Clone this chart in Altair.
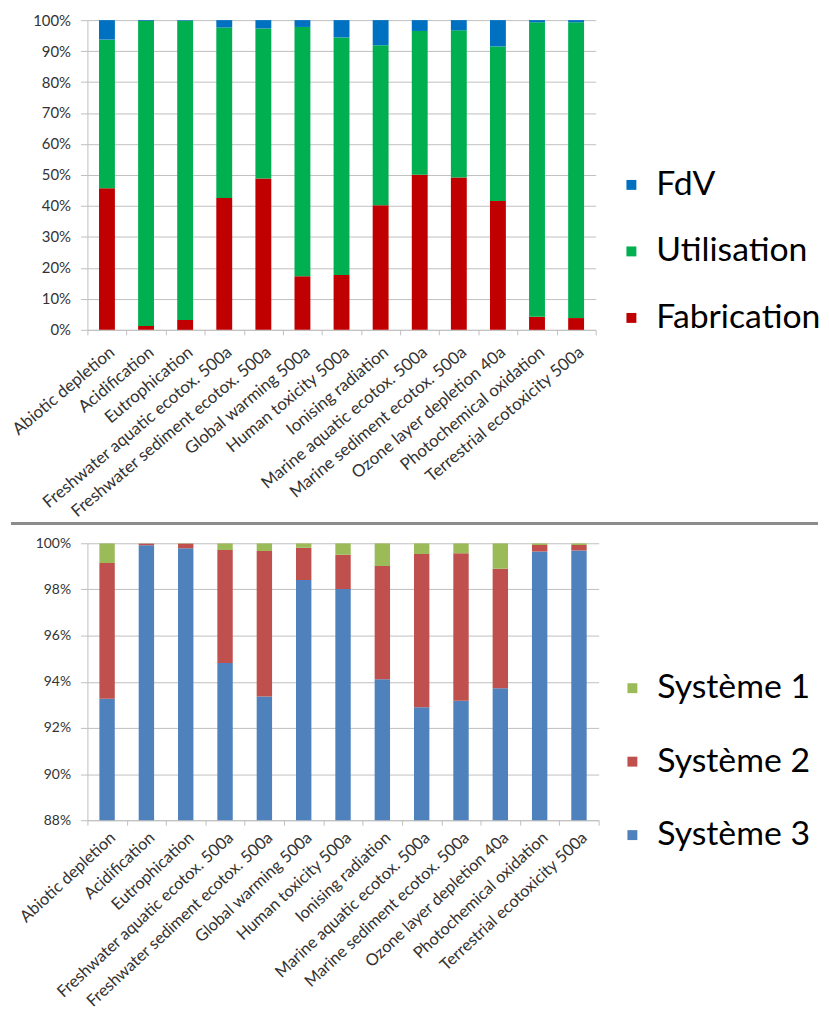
import altair as alt
import pandas as pd

FONT = "Lato"

categories = [
    "Abiotic depletion", "Acidification", "Eutrophication",
    "Freshwater aquatic ecotox. 500a", "Freshwater sediment ecotox. 500a",
    "Global warming 500a", "Human toxicity 500a", "Ionising radiation",
    "Marine aquatic ecotox. 500a", "Marine sediment ecotox. 500a",
    "Ozone layer depletion 40a", "Photochemical oxidation",
    "Terrestrial ecotoxicity 500a",
]

# top chart (percent)
fabrication = [45.7, 1.2, 3.2, 42.6, 48.9, 17.3, 17.7, 40.2, 50.1, 49.2, 41.6, 4.2, 3.8]
utilisation = [48.0, 98.6, 96.6, 55.0, 48.4, 80.5, 76.7, 51.7, 46.4, 47.5, 49.9, 95.1, 95.5]
fdv = [6.3, 0.2, 0.2, 2.4, 2.7, 2.2, 5.6, 8.1, 3.5, 3.3, 8.5, 0.7, 0.7]

# bottom chart (percent)
systeme3 = [93.26, 99.91, 99.78, 94.81, 93.36, 98.41, 98.02, 94.11, 92.90, 93.18, 93.72, 99.64, 99.69]
systeme2 = [5.89, 0.08, 0.21, 4.90, 6.30, 1.40, 1.48, 4.90, 6.63, 6.39, 5.18, 0.29, 0.24]
systeme1 = [0.85, 0.01, 0.01, 0.29, 0.34, 0.19, 0.50, 0.99, 0.47, 0.43, 1.10, 0.07, 0.07]

top_series = ["FdV", "Utilisation", "Fabrication"]
top_colors = ["#0070C0", "#00B050", "#C00000"]
bot_series = ["Système 1", "Système 2", "Système 3"]
bot_colors = ["#9BBB59", "#C0504D", "#4F81BD"]

top_ticks = [0, 10, 20, 30, 40, 50, 60, 70, 80, 90, 100]
bot_ticks = [88, 90, 92, 94, 96, 98, 100]

rows = []
for i, c in enumerate(categories):
    rows.append({"cat": c, "serie": "Fabrication", "ord": 0, "val": fabrication[i]})
    rows.append({"cat": c, "serie": "Utilisation", "ord": 1, "val": utilisation[i]})
    rows.append({"cat": c, "serie": "FdV", "ord": 2, "val": fdv[i]})
top_df = pd.DataFrame(rows)

rows = []
for i, c in enumerate(categories):
    rows.append({"cat": c, "serie": "Système 3", "ord": 0, "val": systeme3[i]})
    rows.append({"cat": c, "serie": "Système 2", "ord": 1, "val": systeme2[i]})
    rows.append({"cat": c, "serie": "Système 1", "ord": 2, "val": systeme1[i]})
bot_df = pd.DataFrame(rows)

GRID = "#BFBFBF"
LABEL = "#333333"


def x_axis(angle, fs, pad):
    return alt.Axis(title=None, labelAngle=angle, labelFontSize=fs, labelFont=FONT,
                    labelColor=LABEL, domainColor=GRID, tickColor=GRID, tickBand="extent",
                    tickSize=5, labelPadding=pad, grid=False, labelLimit=400)


def y_axis(vals, fs):
    return alt.Axis(title=None, values=vals, labelExpr="datum.value + '%'",
                    labelFontSize=fs, labelFont=FONT, labelColor=LABEL,
                    domainColor=GRID, tickColor=GRID, gridColor=GRID, tickSize=7,
                    labelPadding=10, grid=True)


def legend(x, y, rowpad):
    return alt.Legend(title=None, orient="none", legendX=x, legendY=y,
                      labelFontSize=34, labelFont=FONT, labelColor="black",
                      symbolType="square", symbolSize=100, symbolStrokeWidth=0,
                      rowPadding=rowpad, labelOffset=8, labelLimit=400)


top = alt.Chart(top_df).mark_bar(size=16).encode(
    x=alt.X("cat:N", sort=categories, axis=x_axis(-40, 17, 9),
            scale=alt.Scale(paddingInner=0, paddingOuter=0)),
    y=alt.Y("val:Q", stack="zero", axis=y_axis(top_ticks, 15),
            scale=alt.Scale(domain=[0, 100], nice=False)),
    color=alt.Color("serie:N", scale=alt.Scale(domain=top_series, range=top_colors),
                    legend=legend(531, 149, 33)),
    order=alt.Order("ord:Q"),
).properties(width=512, height=312)

sep_df = pd.DataFrame({"k": [0]})
sep = alt.Chart(sep_df).mark_rule(color="#8C8C8C", strokeWidth=3).encode(
    x=alt.value(-77), x2=alt.value(736), y=alt.value(-20)
)

bot_bars = alt.Chart(bot_df).mark_bar(size=15.5, clip=True).encode(
    x=alt.X("cat:N", sort=categories, axis=x_axis(-43, 16.5, 4),
            scale=alt.Scale(paddingInner=0, paddingOuter=0)),
    y=alt.Y("val:Q", stack="zero", axis=y_axis(bot_ticks, 14),
            scale=alt.Scale(domain=[88, 100], nice=False)),
    color=alt.Color("serie:N", scale=alt.Scale(domain=bot_series, range=bot_colors),
                    legend=legend(532, 129, 40)),
    order=alt.Order("ord:Q"),
)

bottom = alt.layer(bot_bars, sep).properties(width=515, height=279)

chart = alt.vconcat(top, bottom, spacing=215, bounds="flush").resolve_scale(
    color="independent", x="independent", y="independent"
).properties(
    padding={"left": 0, "top": 1.5, "right": 0, "bottom": 0}
).configure_view(stroke=None)

chart.save("out.html", embed_options={"renderer": "svg", "actions": False})
